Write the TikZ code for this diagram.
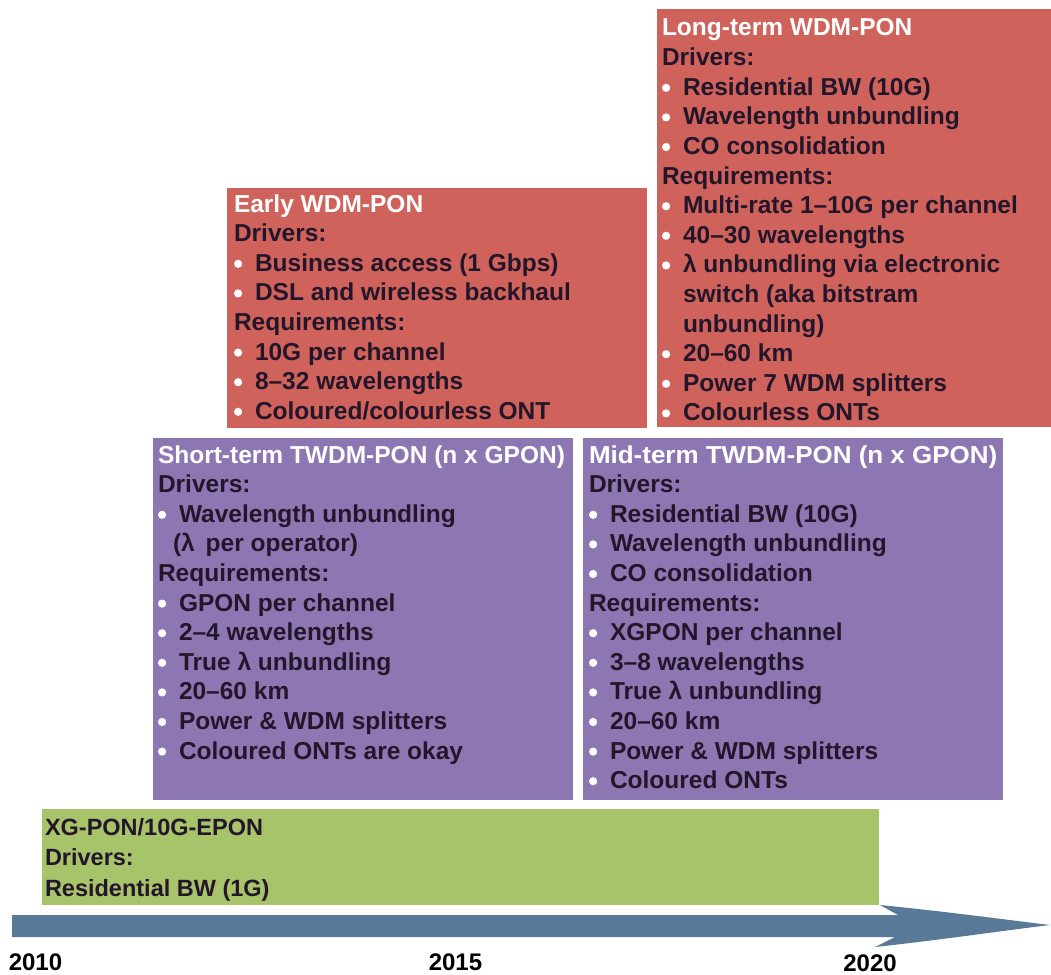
\documentclass[tikz,border=0pt]{standalone}
\usepackage{fontspec}
\setmainfont{Liberation Sans}
\definecolor{wdmred}{HTML}{CF635C}
\definecolor{twdmpurple}{HTML}{8D77B3}
\definecolor{xgpongreen}{HTML}{A8C46A}
\definecolor{timeline}{HTML}{587998}
\definecolor{ink}{HTML}{24162A}

% bullet item (a small white disc) and continuation indent
\newcommand{\blt}{\makebox[21pt][l]{\tikz[baseline=0pt,x=1pt,y=1pt]{\fill[white] (5,7.4) circle[radius=4.1pt];}}}
\newcommand{\cnt}{\hspace{21pt}}
% stack of lines whose baseline is that of the first line
\newcommand{\stack}[1]{\vtop{\baselineskip=29.6pt\lineskiplimit=-100pt\lineskip=0pt #1}}
\newcommand{\rowln}[1]{\hbox{#1}}

\tikzset{
  panel/.style={rectangle, inner sep=0pt, outer sep=0pt, anchor=north west, draw=none},
  txt/.style={anchor=base west, inner sep=0pt, outer sep=0pt, text=ink,
              font=\fontsize{24.5}{29.6}\selectfont\bfseries},
  year/.style={anchor=base, inner sep=0pt, text=black,
               font=\fontsize{24}{28}\selectfont\bfseries},
}

\begin{document}
\begin{tikzpicture}[x=1pt,y=-1pt]
\useasboundingbox (0,0) rectangle (1051,974);

% panels
\node[panel, fill=wdmred, minimum width=394pt, minimum height=418pt] (longbox) at (657,9) {};
\node[panel, fill=wdmred, minimum width=420pt, minimum height=240pt] (earlybox) at (227,188) {};
\node[panel, fill=twdmpurple, minimum width=420pt, minimum height=362pt] (shortbox) at (153,438) {};
\node[panel, fill=twdmpurple, minimum width=420pt, minimum height=362pt] (midbox) at (583,438) {};
\node[panel, fill=xgpongreen, minimum width=837pt, minimum height=96pt] (greenbox) at (42,809) {};

% long-term WDM-PON
\node[txt] (longtxt) at (662,36) {\stack{%
  \rowln{\color{white}Long-term WDM-PON}
  \rowln{Drivers:}
  \rowln{\blt Residential BW (10G)}
  \rowln{\blt Wavelength unbundling}
  \rowln{\blt CO consolidation}
  \rowln{Requirements:}
  \rowln{\blt Multi-rate 1–10G per channel}
  \rowln{\blt 40–30 wavelengths}
  \rowln{\blt λ unbundling via electronic}
  \rowln{\cnt switch (aka bitstram}
  \rowln{\cnt unbundling)}
  \rowln{\blt 20–60 km}
  \rowln{\blt Power 7 WDM splitters}
  \rowln{\blt Colourless ONTs}}};

% early WDM-PON
\node[txt] (earlytxt) at (234,212) {\stack{%
  \rowln{\color{white}Early WDM-PON}
  \rowln{Drivers:}
  \rowln{\blt Business access (1 Gbps)}
  \rowln{\blt DSL and wireless backhaul}
  \rowln{Requirements:}
  \rowln{\blt 10G per channel}
  \rowln{\blt 8–32 wavelengths}
  \rowln{\blt Coloured/colourless ONT}}};

% short-term TWDM-PON
\node[txt] (shorttxt) at (158,463) {\stack{%
  \rowln{\color{white}Short-term TWDM-PON (n x GPON)}
  \rowln{Drivers:}
  \rowln{\blt Wavelength unbundling}
  \rowln{\hspace{15pt}(λ\, per operator)}
  \rowln{Requirements:}
  \rowln{\blt GPON per channel}
  \rowln{\blt 2–4 wavelengths}
  \rowln{\blt True λ unbundling}
  \rowln{\blt 20–60 km}
  \rowln{\blt Power \& WDM splitters}
  \rowln{\blt Coloured ONTs are okay}}};

% mid-term TWDM-PON
\node[txt] (midtxt) at (589,463) {\stack{%
  \rowln{\color{white}\scalebox{1.06}[1]{Mid-term TWDM-PON (n x GPON)}}
  \rowln{Drivers:}
  \rowln{\blt Residential BW (10G)}
  \rowln{\blt Wavelength unbundling}
  \rowln{\blt CO consolidation}
  \rowln{Requirements:}
  \rowln{\blt XGPON per channel}
  \rowln{\blt 3–8 wavelengths}
  \rowln{\blt True λ unbundling}
  \rowln{\blt 20–60 km}
  \rowln{\blt Power \& WDM splitters}
  \rowln{\blt Coloured ONTs}}};

% XG-PON / 10G-EPON
\node[txt, font=\fontsize{23.5}{30.8}\selectfont\bfseries] (greentxt) at (45,835) {\vtop{\baselineskip=30.8pt\lineskiplimit=-100pt\lineskip=0pt
  \rowln{XG-PON/10G-EPON}
  \rowln{Drivers:}
  \rowln{Residential BW (1G)}}};

% timeline arrow
\coordinate (tlstart) at (12,926);
\coordinate (tltip) at (1050,925);
\fill[timeline] (12,915) -- (898,915) -- (880,905)
  .. controls (950,912) and (1000,919) .. (tltip)
  .. controls (1000,931) and (940,940) .. (875,947)
  -- (895,937) -- (12,937) -- cycle;

% years
\node[year] (y2010) at (35.5,970) {2010};
\node[year] (y2015) at (455.5,970) {2015};
\node[year] (y2020) at (870,971) {2020};
\end{tikzpicture}
\end{document}
